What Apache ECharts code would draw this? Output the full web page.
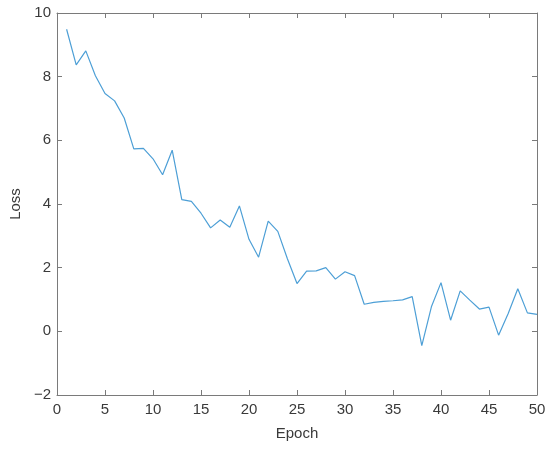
<!DOCTYPE html>
<html>
<head>
<meta charset="utf-8">
<script src="https://cdn.jsdelivr.net/npm/echarts@6/dist/echarts.min.js"></script>
<style>
  html, body { margin: 0; padding: 0; background: #fff; }
  #chart { width: 550px; height: 451px; }
</style>
</head>
<body>
<div id="chart"></div>
<script>
// loss per epoch
const epochs = [];
for (let i = 1; i <= 50; i++) epochs.push(i);
const loss = [
  9.49, 8.37, 8.81, 8.03, 7.47, 7.24, 6.70, 5.73, 5.75, 5.42,
  4.92, 5.69, 4.14, 4.08, 3.71, 3.25, 3.50, 3.27, 3.94, 2.89,
  2.33, 3.46, 3.14, 2.28, 1.50, 1.89, 1.90, 2.00, 1.64, 1.87,
  1.75, 0.85, 0.91, 0.94, 0.96, 0.99, 1.09, -0.45, 0.77, 1.53,
  0.35, 1.27, 0.98, 0.70, 0.76, -0.12, 0.56, 1.34, 0.58, 0.53
];
const xTicks = { min: 0, max: 50, interval: 5 };
const yTicks = { min: -2, max: 10, interval: 2 };

const lineColor = '#7a7a7a';
const textColor = '#3a3a3a';
const font = 'Liberation Sans, Arial, sans-serif';

const chart = echarts.init(document.getElementById('chart'));

const baseAxis = {
  type: 'value',
  axisLine: { show: true, onZero: false, lineStyle: { color: lineColor, width: 1 } },
  axisTick: { show: true, inside: true, length: 5, lineStyle: { color: lineColor } },
  splitLine: { show: false },
};

const option = {
  backgroundColor: '#fff',
  animation: false,
  grid: { left: 50, right: 13, top: 13, bottom: 56 },
  xAxis: [
    Object.assign({}, baseAxis, {
      min: xTicks.min, max: xTicks.max, interval: xTicks.interval,
      position: 'bottom',
      name: 'Epoch', nameLocation: 'middle', nameGap: 31,
      nameTextStyle: { color: textColor, fontSize: 15, fontFamily: font },
      axisLabel: { color: textColor, fontSize: 15, fontFamily: font, margin: 7 },
    }),
    Object.assign({}, baseAxis, {
      min: xTicks.min, max: xTicks.max, interval: xTicks.interval,
      position: 'top',
      axisLabel: { show: false },
    }),
  ],
  yAxis: [
    Object.assign({}, baseAxis, {
      min: yTicks.min, max: yTicks.max, interval: yTicks.interval,
      position: 'left',
      name: 'Loss', nameLocation: 'middle', nameGap: 30, nameRotate: 90,
      nameTextStyle: { color: textColor, fontSize: 15, fontFamily: font },
      axisLabel: {
        color: textColor, fontSize: 15, fontFamily: font, margin: 6,
        formatter: v => (v < 0 ? '\u2212' + Math.abs(v) : String(v)),
      },
    }),
    Object.assign({}, baseAxis, {
      min: yTicks.min, max: yTicks.max, interval: yTicks.interval,
      position: 'right',
      axisLabel: { show: false },
    }),
  ],
  series: [{
    type: 'line',
    data: epochs.map((e, i) => [e, loss[i]]),
    showSymbol: false,
    lineStyle: { color: '#4d9fd6', width: 1.2 },
    itemStyle: { color: '#4d9fd6' },
  }],
};

chart.setOption(option);
</script>
</body>
</html>
